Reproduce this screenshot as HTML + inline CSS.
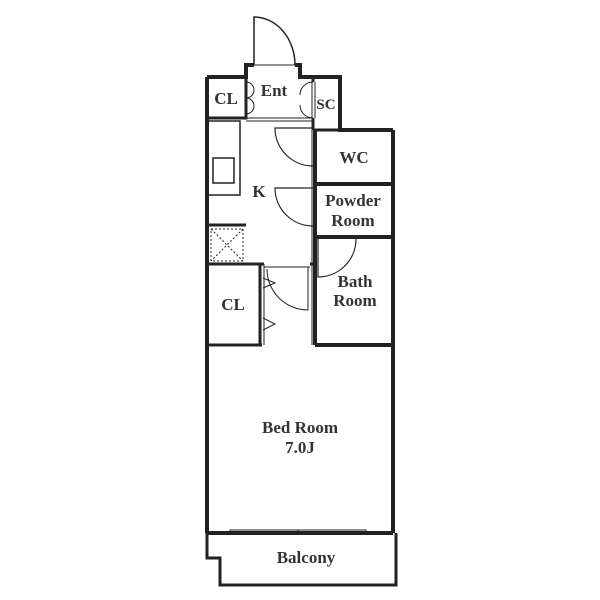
<!DOCTYPE html>
<html><head><style>body{margin:0;background:#fff}svg{display:block}</style></head><body>
<svg width="600" height="600" viewBox="0 0 600 600" xmlns="http://www.w3.org/2000/svg">
<g fill="none" stroke="#222">
<path stroke-width="4" d="M207 77 V533 M393 130 V533 M207 533 H393 M207 77 H246 V65 H254 M295 65 H300 V77 H340 V130 H393"/>
<path stroke-width="3" d="M207 533 V558 H220 V585 H396 V533"/>
<path stroke-width="1" d="M230 530 H298 V533 H230 Z M298 530 H366 V533 H298 Z"/>
<path stroke-width="3" d="M246 77 V118 H207"/>
<path stroke-width="1" d="M246 118 H313 M246 121 H313"/>
<path stroke-width="1" d="M246 82 a8 8 0 0 1 0 16 M246 98 a8 8 0 0 1 0 16 M254 65 H295"/>
<path stroke-width="1.5" d="M254 65 V17 A41 48 0 0 1 295 65"/>
<path stroke-width="3" d="M313 77 V82 M313 118 V130 M313 130 H340"/>
<path stroke-width="1" d="M312 82 V118 M315 82 V118 M313 82 a13 13 0 0 0 -13 13 M313 118 a13 13 0 0 1 -13 -13"/>
<path stroke-width="4" d="M315 130 V345 M315 184 H393 M315 237 H393 M315 345 H393"/>
<path stroke-width="1" d="M312 130 V345"/>
<path stroke-width="1.2" d="M313 128 H275 A38 38 0 0 0 313 166 M313 188 H275 A38 38 0 0 0 313 226 M318 239 V277 A38 38 0 0 0 356 239"/>
<path stroke-width="1.5" d="M209 121 H240 V195 H209 M213 158 H234 V183 H213 Z"/>
<path stroke-width="3" d="M207 225 H246"/>
<rect x="211" y="229" width="32" height="32" stroke-width="1" stroke-dasharray="2 2"/>
<path stroke-width="1" stroke-dasharray="2 2" d="M211 229 L243 261 M243 229 L211 261"/>
<path stroke-width="3" d="M207 264 H264 M310 264 H315 M260 264 V345 M207 345 H262"/>
<path stroke-width="1" d="M264 267 H310 M264 264 V345 M308 267 V310 A41 41 0 0 1 267 269"/>
<path stroke-width="1" d="M263 278 L275 283 L263 288 M263 318 L275 324 L263 330"/>
</g>
<g font-family="'Liberation Serif',serif" font-weight="bold" font-size="17" fill="#333" text-anchor="middle">
<text x="226" y="104">CL</text>
<text x="274" y="96">Ent</text>
<text x="326" y="109" font-size="15">SC</text>
<text x="354" y="163">WC</text>
<text x="259" y="197">K</text>
<text x="353" y="206">Powder</text>
<text x="353" y="226">Room</text>
<text x="355" y="287">Bath</text>
<text x="355" y="306">Room</text>
<text x="233" y="310">CL</text>
<text x="300" y="433">Bed Room</text>
<text x="300" y="453">7.0J</text>
<text x="306" y="563">Balcony</text>
</g>
</svg>
</body></html>
